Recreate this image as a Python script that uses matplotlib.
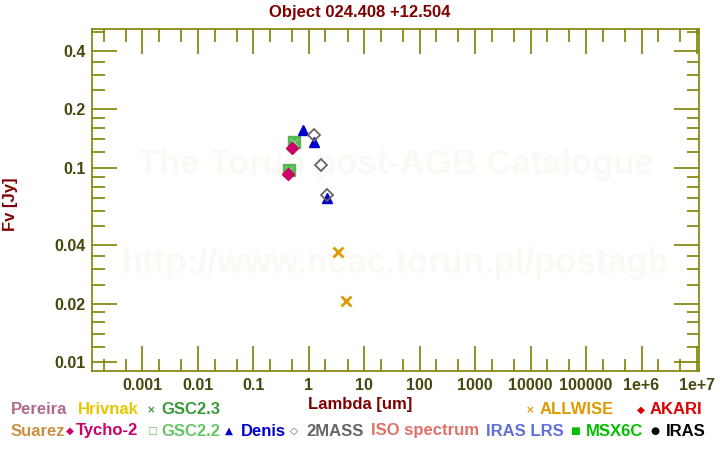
import matplotlib
matplotlib.use('Agg')
import matplotlib.pyplot as plt
import numpy as np

plt.rcParams['font.family'] = ['Liberation Sans', 'DejaVu Sans']
plt.rcParams['font.weight'] = 'bold'

# photometry (wavelength um, flux Jy)
denis_w = [0.79, 1.22, 2.16]
denis_f = [0.156, 0.136, 0.0697]
twomass_w = [1.235, 1.66, 2.16]
twomass_f = [0.1475, 0.103, 0.0724]
gsc22_w = [0.55, 0.447]
gsc22_f = [0.135, 0.0975]
gsc23_w = [0.55, 0.447]
gsc23_f = [0.135, 0.0975]
tycho_w = [0.506, 0.43]
tycho_f = [0.126, 0.0927]
allwise_w = [3.3, 4.6]
allwise_f = [0.0368, 0.0207]

xticks = [1e-3, 1e-2, 1e-1, 1, 10, 100, 1e3, 1e4, 1e5, 1e6, 1e7]
xlabels = ['0.001', '0.01', '0.1', '1', '10', '100', '1000', '10000', '100000', '1e+6', '1e+7']
yticks = [0.01, 0.02, 0.04, 0.1, 0.2, 0.4]
ylabels = ['0.01', '0.02', '0.04', '0.1', '0.2', '0.4']
yminor = [0.012, 0.014, 0.016, 0.018, 0.025, 0.03, 0.035, 0.05, 0.06, 0.07, 0.08, 0.09,
          0.12, 0.14, 0.16, 0.18, 0.25, 0.3, 0.35, 0.5]

olive = '#808000'
tickcol = '#48480f'
darkred = '#800000'

W, H = 720, 450
fig = plt.figure(figsize=(7.2, 4.5), dpi=100)
x0, x1, y0, y1 = 92.3, 699, 29.3, 371
ax = fig.add_axes([x0 / W, 1 - y1 / H, (x1 - x0) / W, (y1 - y0) / H])
ax.set_xscale('log')
ax.set_yscale('log')
ax.set_xlim(1.25e-4, 1.087e7)
ax.set_ylim(0.0090, 0.515)

# watermark
ax.text(0.5, 0.605, 'The Torun post-AGB Catalogue', transform=ax.transAxes, ha='center', va='center',
        fontsize=25, color='#faf9f4', fontweight='bold', zorder=0)
ax.text(0.5, 0.315, 'http://www.ncac.torun.pl/postagb', transform=ax.transAxes, ha='center', va='center',
        fontsize=25, color='#faf9f4', fontweight='bold', zorder=0)

ax.plot(gsc22_w, gsc22_f, 's', ms=8, mfc='#55b855', mec='#55b855', ls='none', zorder=3)
ax.plot(gsc23_w, gsc23_f, 'x', ms=6, mew=1, color='#80d080', ls='none', zorder=4)
ax.plot(tycho_w, tycho_f, 'D', ms=6, mfc='#cc0066', mec='#cc0066', ls='none', zorder=5)
ax.plot(denis_w, denis_f, '^', ms=7.5, mfc='#0000cc', mec='#0000cc', ls='none', zorder=5)
ax.plot(twomass_w, twomass_f, 'D', ms=6, mfc='none', mec='#666666', mew=1.3, ls='none', zorder=6)
ax.plot(allwise_w, allwise_f, 'x', ms=7, mew=2, color='#e09a00', ls='none', zorder=5)

for s in ax.spines.values():
    s.set_color(olive)
    s.set_linewidth(1.2)

xminor = [m * 10.0 ** e for e in range(-4, 7) for m in (2, 5)]
ax.set_xticks(xticks)
ax.set_xticklabels(xlabels)
ax.set_xticks(xminor, minor=True)
ax.set_xticklabels([], minor=True)
ax.set_yticks(yticks)
ax.set_yticklabels(ylabels)
ax.set_yticks(yminor, minor=True)
ax.set_yticklabels([], minor=True)
ax.tick_params(which='both', direction='in', top=True, right=True, color=olive, width=1.2)
ax.tick_params(which='major', length=18, labelsize=11.5, labelcolor=tickcol, pad=5)
ax.tick_params(which='minor', length=9)
for lab in ax.get_xticklabels() + ax.get_yticklabels():
    lab.set_fontweight('bold')

fig.text(360 / W, 1 - 12 / H, 'Object 024.408 +12.504', ha='center', va='center',
         fontsize=12, color=darkred, fontweight='bold')
fig.text(360 / W, 1 - 405 / H, 'Lambda [um]', ha='center', va='center',
         fontsize=12, color=darkred, fontweight='bold')
fig.text(11 / W, 1 - 204 / H, 'Fv [Jy]', ha='center', va='center', rotation=90,
         fontsize=12, color=darkred, fontweight='bold')

# legend: (marker glyph, marker x, label, label x, row y, colour)
legend = [
    (None, 0, 'Pereira', 11, 410, '#b06a8a'),
    (None, 0, 'Hrivnak', 78, 410, '#e6c800'),
    ('\u00d7', 151, 'GSC2.3', 161, 410, '#3a9a3a'),
    ('\u00d7', 530, 'ALLWISE', 540, 410, '#e09a00'),
    ('\u25c6', 641, 'AKARI', 650, 410, '#dd0000'),
    (None, 0, 'Suarez', 11, 431, '#c89040'),
    ('\u25c6', 70, 'Tycho-2', 76, 431, '#cc0066'),
    ('\u25a1', 152, 'GSC2.2', 161, 431, '#66c466'),
    ('\u25b2', 229, 'Denis', 241, 431, '#0000cc'),
    ('\u25c7', 294, '2MASS', 306, 431, '#666666'),
    (None, 0, 'ISO spectrum', 371, 431, '#e07068'),
    (None, 0, 'IRAS LRS', 486, 431, '#6070d8'),
    ('\u25a0', 575, 'MSX6C', 586, 431, '#00c000'),
    ('\u25cf', 655, 'IRAS', 666, 431, '#000000'),
]
for mk, mx, lab, lx, ly, col in legend:
    if mk is not None:
        fig.text(mx / W, 1 - ly / H, mk, ha='center', va='center', fontsize=7.5,
                 color=col, family=['DejaVu Sans'])
    fig.text(lx / W, 1 - ly / H, lab, ha='left', va='center', fontsize=12,
             color=col, fontweight='bold')

fig.savefig('out.png', dpi=100)
